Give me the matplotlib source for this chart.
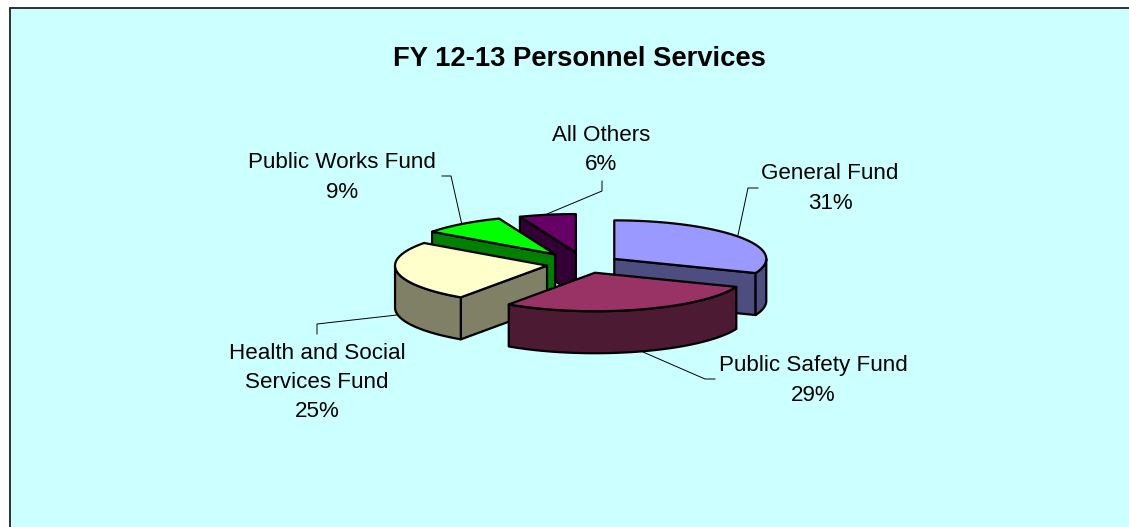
import numpy as np
import matplotlib
matplotlib.use("Agg")
import matplotlib.pyplot as plt
from matplotlib.patches import Polygon, Rectangle

plt.rcParams['font.family'] = ['Liberation Sans', 'DejaVu Sans']

# chart data
names = ['General Fund', 'Public Safety Fund', 'Health and Social\nServices Fund', 'Public Works Fund', 'All Others']
shares = [31.0, 28.6, 25.4, 9.0, 6.0]
tops = ['#9999FF', '#993366', '#FFFFCC', '#00FF00', '#660066']
sides = ['#4D4D80', '#4D1A33', '#808066', '#008000', '#330033']
explode = [36, 36, 38, 48, 46]
label_pos = [(830, 188.5), (813, 380.5), (317, 382.5), (342, 177.5), (601, 150)]
leaders = [
    [(738, 235), (748, 188), (758, 188)],
    [(643, 352), (705, 379), (715, 379)],
    [(397, 315), (317, 324), (317, 334)],
    [(462, 225), (451, 176), (442, 176)],
    [(547, 214), (602, 191), (602, 181)],
]

# pie geometry in pixels
cx, cy = 584.5, 264
rx, ry = 152, 38.5
depth = 42
tilt = ry / rx


def rim(ax0, ay0, deg):
    t = np.radians(deg)
    return np.column_stack([ax0 + rx * np.sin(t), ay0 - ry * np.cos(t)])


def drop(pts):
    return pts + np.array([0, depth])


fig = plt.figure(figsize=(11.29, 5.27), dpi=100)
ax = fig.add_axes([0, 0, 1, 1])
ax.set_xlim(0, 1129)
ax.set_ylim(527, 0)
ax.axis('off')

ax.add_patch(Rectangle((9.5, 7.5), 1130, 530, facecolor='#CCFFFF', edgecolor='#222222', linewidth=1.3))

ax.text(579.5, 59, 'FY 12-13 Personnel Services', fontsize=19.7, fontweight='bold', ha='center', va='center')

edges = np.cumsum([0] + shares) * 3.6
starts = edges[:-1]
ends = edges[1:]
mids = (starts + ends) / 2

# back to front
order = [4, 3, 0, 2, 1]
lw = 1.6
for z, i in enumerate(order):
    a0, a1 = starts[i], ends[i]
    px = cx + explode[i] * np.sin(np.radians(mids[i]))
    py = cy - explode[i] * tilt * np.cos(np.radians(mids[i]))
    apex = np.array([[px, py]])
    zo = 3 + z
    kw = dict(edgecolor='black', linewidth=lw, joinstyle='round', zorder=zo)

    # flat cut sides that face the viewer
    if np.sin(np.radians(a0)) < -1e-6:
        p = rim(px, py, a0)
        ax.add_patch(Polygon(np.vstack([apex, p, drop(p), drop(apex)]), facecolor=sides[i], **kw))
    if np.sin(np.radians(a1)) > 1e-6:
        p = rim(px, py, a1)
        ax.add_patch(Polygon(np.vstack([apex, p, drop(p), drop(apex)]), facecolor=sides[i], **kw))

    # outer wall, front half only
    lo, hi = max(a0, 90), min(a1, 270)
    if hi > lo:
        arc = rim(px, py, np.linspace(lo, hi, 80))
        ax.add_patch(Polygon(np.vstack([arc, drop(arc)[::-1]]), facecolor=sides[i], **kw))

    # top face
    arc = rim(px, py, np.linspace(a0, a1, 120))
    ax.add_patch(Polygon(np.vstack([apex, arc]), facecolor=tops[i], **kw))

for i, name in enumerate(names):
    ax.text(label_pos[i][0], label_pos[i][1], f'{name}\n{shares[i]:.0f}%', fontsize=16.1,
            ha='center', va='center', linespacing=1.53, color='black', zorder=20)
    xs, ys = zip(*leaders[i])
    ax.plot(xs, ys, color='black', linewidth=0.7, zorder=2)

fig.savefig('out.png', dpi=100)
